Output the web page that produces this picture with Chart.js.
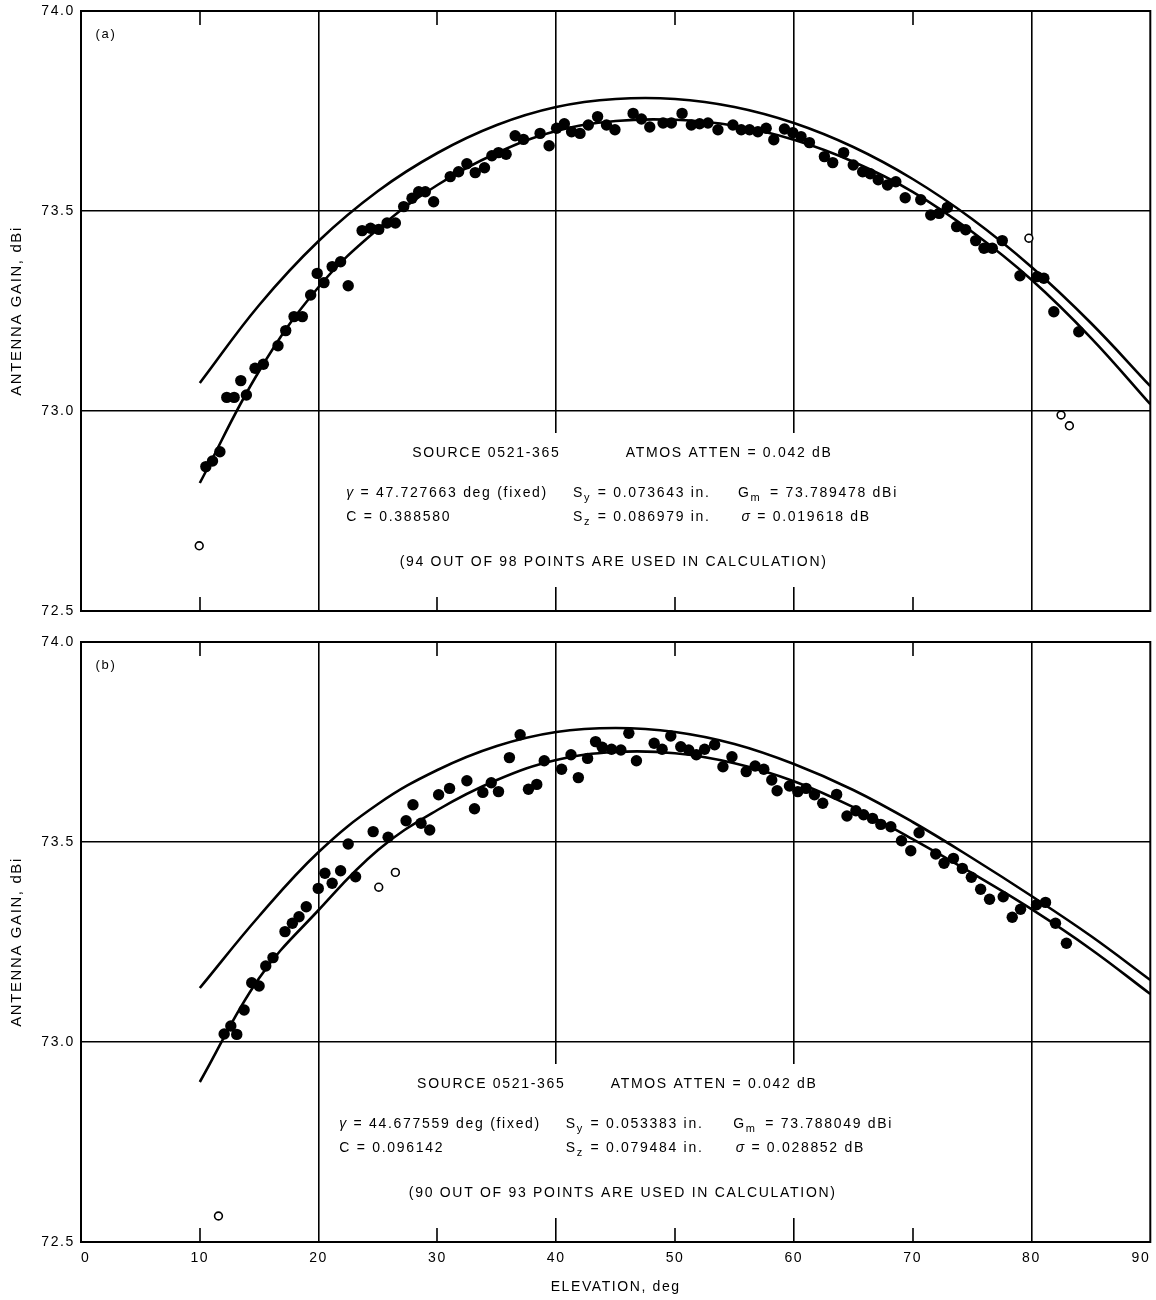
<!DOCTYPE html>
<html>
<head>
<meta charset="utf-8">
<title>Antenna gain vs elevation, source 0521-365</title>
<script src="https://cdn.jsdelivr.net/npm/chart.js@4.4.1/dist/chart.umd.min.js"></script>
<style>
  html, body { margin: 0; padding: 0; background: #fff; }
  #wrap { position: relative; width: 1156px; height: 1300px; }
  canvas { position: absolute; left: 0; }
  #panelA { top: 0; }
  #panelB { top: 628px; }
</style>
</head>
<body>
<div id="wrap">
  <canvas id="panelA" width="1156" height="628"></canvas>
  <canvas id="panelB" width="1156" height="672"></canvas>
</div>
<script>
// ---- axis ticks ----
const elevTicks = [0, 10, 20, 30, 40, 50, 60, 70, 80, 90];
const gainTicks = [72.5, 73.0, 73.5, 74.0];
const minorElev = [10, 30, 50, 70];

// ---- fitted curves (elevation, deg) ----
const fitElev = [10, 15, 20, 25, 30, 35, 40, 45, 50, 55, 60, 65, 70, 75, 80, 85, 90];

// panel (a)
const aUpperFit = [73.070, 73.265, 73.425, 73.550, 73.645, 73.715, 73.760, 73.780, 73.780, 73.760, 73.720, 73.660, 73.580, 73.480, 73.360, 73.220, 73.062];
const aLowerFit = [72.820, 73.100, 73.310, 73.455, 73.565, 73.645, 73.700, 73.725, 73.728, 73.713, 73.678, 73.623, 73.548, 73.448, 73.328, 73.183, 73.017];
const aUsedElev = [10.51, 11.07, 11.69, 12.27, 12.89, 13.45, 13.92, 14.65, 15.35, 16.58,
  17.23, 17.93, 18.63, 19.33, 19.88, 20.45, 21.14, 21.85, 22.49, 23.66,
  24.37, 25.06, 25.76, 26.46, 27.16, 27.86, 28.42, 28.98, 29.68, 31.08,
  31.78, 32.48, 33.18, 33.96, 34.58, 35.14, 35.78, 36.54, 37.24, 38.64,
  39.40, 40.03, 40.68, 41.29, 42.00, 42.70, 43.48, 44.23, 44.94, 46.47,
  47.17, 47.87, 48.99, 49.69, 50.59, 51.37, 52.07, 52.77, 53.61, 54.87,
  55.57, 56.27, 56.97, 57.67, 58.31, 59.21, 59.91, 60.60, 61.31, 62.57,
  63.27, 64.19, 65.00, 65.79, 66.43, 67.10, 67.88, 68.58, 69.37, 70.68,
  71.52, 72.22, 72.92, 73.70, 74.46, 75.30, 76.00, 76.70, 77.54, 79.03,
  80.48, 81.04, 81.88, 83.98];
const aUsedGain = [72.861, 72.875, 72.898, 73.034, 73.034, 73.076, 73.040, 73.107, 73.117, 73.163,
  73.201, 73.236, 73.236, 73.290, 73.344, 73.321, 73.361, 73.373, 73.313, 73.451,
  73.457, 73.454, 73.470, 73.470, 73.511, 73.532, 73.548, 73.548, 73.523, 73.586,
  73.598, 73.618, 73.596, 73.608, 73.638, 73.646, 73.642, 73.688, 73.679, 73.694,
  73.663, 73.707, 73.718, 73.698, 73.694, 73.715, 73.736, 73.715, 73.703, 73.744,
  73.730, 73.710, 73.720, 73.720, 73.744, 73.715, 73.718, 73.720, 73.703, 73.715,
  73.703, 73.703, 73.698, 73.707, 73.678, 73.705, 73.696, 73.686, 73.671, 73.636,
  73.621, 73.646, 73.615, 73.598, 73.593, 73.578, 73.565, 73.573, 73.533, 73.528,
  73.490, 73.494, 73.509, 73.461, 73.453, 73.426, 73.407, 73.407, 73.426, 73.338,
  73.336, 73.332, 73.248, 73.198];
const aRejElev = [9.95, 79.78, 82.49, 83.19];
const aRejGain = [72.663, 73.432, 72.990, 72.963];

// panel (b)
const bUpperFit = [73.135, 73.315, 73.475, 73.595, 73.680, 73.740, 73.775, 73.785, 73.775, 73.745, 73.695, 73.630, 73.550, 73.460, 73.365, 73.265, 73.155];
const bLowerFit = [72.900, 73.160, 73.330, 73.480, 73.580, 73.655, 73.705, 73.725, 73.722, 73.697, 73.652, 73.587, 73.507, 73.422, 73.332, 73.232, 73.120];
const bUsedElev = [12.05, 12.61, 13.11, 13.73, 14.37, 14.99, 15.55, 16.16, 17.17, 17.79,
  18.35, 18.96, 19.97, 20.53, 21.14, 21.85, 22.49, 23.11, 24.59, 25.85,
  27.36, 27.94, 28.62, 29.35, 30.10, 31.02, 32.48, 33.12, 33.82, 34.53,
  35.14, 36.06, 36.96, 37.66, 38.36, 38.99, 40.45, 41.24, 41.86, 42.64,
  43.31, 43.87, 44.65, 45.44, 46.11, 46.75, 48.24, 48.91, 49.64, 50.48,
  51.15, 51.79, 52.49, 53.33, 54.03, 54.79, 55.99, 56.74, 57.47, 58.14,
  58.59, 59.63, 60.33, 61.03, 61.73, 62.43, 63.60, 64.47, 65.22, 65.87,
  66.62, 67.32, 68.16, 69.06, 69.84, 70.54, 71.94, 72.64, 73.43, 74.18,
  74.94, 75.72, 76.47, 77.62, 78.38, 79.08, 80.42, 81.18, 82.02, 82.94];
const bUsedGain = [73.020, 73.040, 73.019, 73.080, 73.148, 73.140, 73.190, 73.211, 73.276, 73.297,
  73.313, 73.338, 73.384, 73.422, 73.397, 73.428, 73.495, 73.413, 73.526, 73.512,
  73.553, 73.593, 73.547, 73.530, 73.618, 73.634, 73.653, 73.583, 73.624, 73.648,
  73.626, 73.711, 73.768, 73.632, 73.644, 73.703, 73.682, 73.718, 73.661, 73.709,
  73.751, 73.737, 73.732, 73.730, 73.772, 73.703, 73.747, 73.732, 73.765, 73.738,
  73.730, 73.718, 73.732, 73.743, 73.688, 73.713, 73.676, 73.690, 73.682, 73.655,
  73.628, 73.640, 73.626, 73.634, 73.618, 73.597, 73.619, 73.565, 73.578, 73.568,
  73.559, 73.544, 73.538, 73.503, 73.478, 73.523, 73.470, 73.447, 73.459, 73.434,
  73.412, 73.382, 73.357, 73.363, 73.312, 73.332, 73.343, 73.349, 73.297, 73.247];
const bRejElev = [11.57, 25.06, 26.46];
const bRejGain = [72.565, 73.387, 73.424];

// ---- drawing helpers ----
const FONT = "'Liberation Sans', Arial, Helvetica, sans-serif";
Chart.defaults.font.family = FONT;
Chart.defaults.color = '#000';

const TRACKING = '1.6px';
const NOTE_STYLE = { size: 14, subSize: 11, subDrop: 5, spacing: '1.7px' };
const NOTE_BOX = { x0: 21, x1: 69, y0: 72.56, y1: 72.945 };
const notesByCanvas = {};

const toPts = (xs, ys) => xs.map((v, i) => ({ x: v, y: ys[i] }));

// spaced-out lettering used throughout the figure
const tracking = {
  id: 'tracking',
  beforeLayout(chart) { chart.ctx.letterSpacing = TRACKING; },
  beforeDraw(chart) { chart.ctx.letterSpacing = TRACKING; }
};

// frame around the plot and short inward ticks at the odd decades
const frame = {
  id: 'frame',
  beforeDatasetsDraw(chart) {
    const { ctx, chartArea: a, scales: { x } } = chart;
    ctx.save();
    ctx.strokeStyle = '#000';
    ctx.lineWidth = 1.6;
    ctx.beginPath();
    minorElev.forEach(v => {
      const px = Math.round(x.getPixelForValue(v));
      ctx.moveTo(px, a.top); ctx.lineTo(px, a.top + 14);
      ctx.moveTo(px, a.bottom); ctx.lineTo(px, a.bottom - 14);
    });
    ctx.stroke();
    ctx.lineWidth = 2;
    ctx.strokeRect(a.left, a.top, a.right - a.left, a.bottom - a.top);
    ctx.restore();
  }
};

// fit summary block and panel letter
const notes = {
  id: 'notes',
  beforeDatasetsDraw(chart) {
    const items = notesByCanvas[chart.canvas.id];
    if (!items) return;
    const { ctx, scales: { x, y } } = chart;
    const s = NOTE_STYLE;
    ctx.save();
    const bx0 = x.getPixelForValue(NOTE_BOX.x0), bx1 = x.getPixelForValue(NOTE_BOX.x1);
    const by0 = y.getPixelForValue(NOTE_BOX.y1), by1 = y.getPixelForValue(NOTE_BOX.y0);
    ctx.fillStyle = '#fff';
    ctx.fillRect(bx0, by0, bx1 - bx0, by1 - by0);
    ctx.fillStyle = '#000';
    ctx.textBaseline = 'middle';
    ctx.textAlign = 'left';
    ctx.letterSpacing = s.spacing;
    const fontOf = p => `${p.italic ? 'italic ' : ''}${p.sub ? s.subSize : (p.size || s.size)}px ${FONT}`;
    items.forEach(it => {
      const parts = it.parts.map(p => (typeof p === 'string' ? { t: p } : Object.assign({}, p)));
      let w = 0;
      parts.forEach(p => { ctx.font = fontOf(p); p.w = ctx.measureText(p.t).width + (p.gap || 0); w += p.w; });
      let px = x.getPixelForValue(it.x);
      if (it.align === 'center') px -= w / 2;
      const py = y.getPixelForValue(it.y);
      parts.forEach(p => {
        ctx.font = fontOf(p);
        ctx.fillText(p.t, px, py + (p.sub ? s.subDrop : 0));
        px += p.w;
      });
    });
    ctx.restore();
  }
};

function summaryItems(letter, src, atten, gamma, c, sy, sz, gm, sigma, count, pos) {
  return [
    { x: 2.1, y: 73.9425, align: 'center', parts: [{ t: letter, size: 13 }] },
    { x: pos.src, y: 72.895, parts: [src] },
    { x: pos.atten, y: 72.895, parts: [atten] },
    { x: pos.col1, y: 72.795, parts: [{ t: 'γ', italic: true }, ' = ' + gamma] },
    { x: pos.col2, y: 72.795, parts: ['S', { t: 'y', sub: true, gap: 1 }, ' = ' + sy] },
    { x: pos.col3, y: 72.795, parts: ['G', { t: 'm', sub: true, gap: 3 }, ' = ' + gm] },
    { x: pos.col1, y: 72.735, parts: ['C = ' + c] },
    { x: pos.col2, y: 72.735, parts: ['S', { t: 'z', sub: true, gap: 1 }, ' = ' + sz] },
    { x: pos.col3s, y: 72.735, parts: [{ t: 'σ', italic: true }, ' = ' + sigma] },
    { x: pos.count, y: 72.6225, align: 'center', parts: [count] }
  ];
}

function makePanel(canvasId, fit, used, rej, items, showX) {
  notesByCanvas[canvasId] = items;
  const datasets = [
    {
      label: 'used', data: used, showLine: false,
      pointRadius: 5.7, pointHoverRadius: 5.7,
      pointBackgroundColor: '#000', pointBorderColor: '#000', pointBorderWidth: 0
    },
    {
      label: 'excluded', data: rej, showLine: false,
      pointRadius: 3.9, pointHoverRadius: 3.9,
      pointBackgroundColor: '#fff', pointBorderColor: '#000', pointBorderWidth: 1.6
    },
    {
      label: 'fit upper', data: fit[0], showLine: true, pointRadius: 0,
      borderColor: '#000', borderWidth: 2.6, tension: 0.4, fill: false
    },
    {
      label: 'fit lower', data: fit[1], showLine: true, pointRadius: 0,
      borderColor: '#000', borderWidth: 2.6, tension: 0.4, fill: false
    }
  ];

  const xScale = {
    type: 'linear', min: elevTicks[0], max: elevTicks[elevTicks.length - 1],
    afterBuildTicks(s) { s.ticks = elevTicks.map(v => ({ value: v })); },
    grid: {
      drawTicks: false, lineWidth: 1.6,
      color: c => (c.tick && c.tick.value % 20 === 0 ? '#000' : 'rgba(0,0,0,0)')
    },
    border: { display: false },
    ticks: { display: showX, align: 'inner', padding: 8, font: { size: 14 }, color: '#000', maxRotation: 0 },
    title: {
      display: showX, text: 'ELEVATION, deg', color: '#000',
      font: { size: 14 }, padding: { top: 0, bottom: 4.6 }
    },
    afterFit(s) { s.height = showX ? 58 : 17; s.paddingLeft = 0; s.paddingRight = 0; }
  };

  const yScale = {
    type: 'linear', min: gainTicks[0], max: gainTicks[gainTicks.length - 1],
    afterBuildTicks(s) { s.ticks = gainTicks.map(v => ({ value: v })); },
    grid: { drawTicks: false, lineWidth: 1.6, color: '#000' },
    border: { display: false },
    ticks: { padding: 6, font: { size: 14 }, color: '#000', callback: v => Number(v).toFixed(1) },
    title: {
      display: true, text: 'ANTENNA GAIN, dBi', color: '#000',
      font: { size: 15 }, padding: { top: 8, bottom: 0 }
    },
    afterFit(s) { s.width = 81; s.paddingTop = 0; s.paddingBottom = 0; }
  };

  return new Chart(document.getElementById(canvasId), {
    type: 'scatter',
    data: { datasets },
    options: {
      responsive: false, animation: false, devicePixelRatio: 1,
      layout: { padding: { top: showX ? 14 : 11, right: 3, left: 0, bottom: 0 } },
      scales: { x: xScale, y: yScale },
      plugins: { legend: { display: false }, tooltip: { enabled: false } }
    },
    plugins: [tracking, frame, notes]
  });
}

makePanel('panelA',
  [toPts(fitElev, aUpperFit), toPts(fitElev, aLowerFit)],
  toPts(aUsedElev, aUsedGain), toPts(aRejElev, aRejGain),
  summaryItems('(a)', 'SOURCE 0521-365', 'ATMOS ATTEN = 0.042 dB',
    '47.727663 deg (fixed)', '0.388580', '0.073643 in.', '0.086979 in.',
    '73.789478 dBi', '0.019618 dB', '(94 OUT OF 98 POINTS ARE USED IN CALCULATION)',
    { src: 27.87, atten: 45.84, col1: 22.33, col2: 41.4, col3: 55.3, col3s: 55.6, count: 44.83 }),
  false);

makePanel('panelB',
  [toPts(fitElev, bUpperFit), toPts(fitElev, bLowerFit)],
  toPts(bUsedElev, bUsedGain), toPts(bRejElev, bRejGain),
  summaryItems('(b)', 'SOURCE 0521-365', 'ATMOS ATTEN = 0.042 dB',
    '44.677559 deg (fixed)', '0.096142', '0.053383 in.', '0.079484 in.',
    '73.788049 dBi', '0.028852 dB', '(90 OUT OF 93 POINTS ARE USED IN CALCULATION)',
    { src: 28.29, atten: 44.58, col1: 21.74, col2: 40.8, col3: 54.9, col3s: 55.1, count: 45.6 }),
  true);
</script>
</body>
</html>
